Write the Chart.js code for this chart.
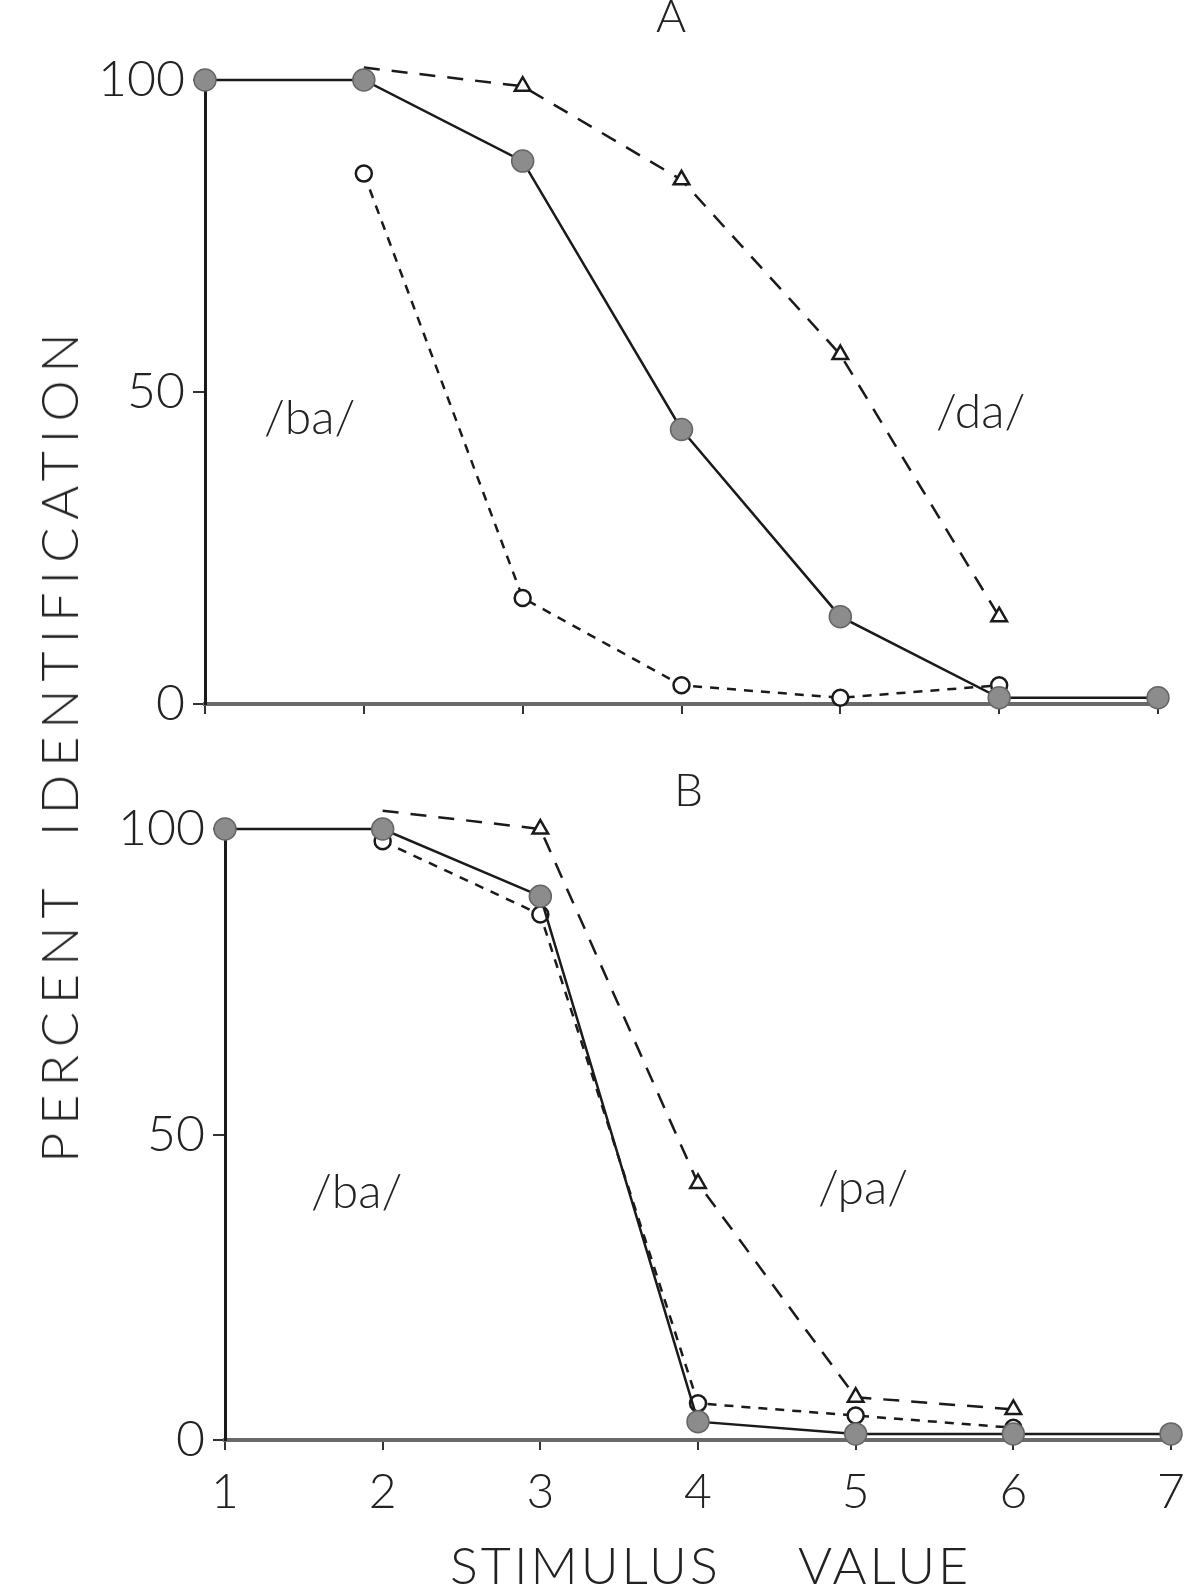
<!DOCTYPE html>
<html>
<head>
<meta charset="utf-8">
<script src="https://cdn.jsdelivr.net/npm/chart.js@4.4.0/dist/chart.umd.min.js"></script>
<style>
  html, body { margin: 0; padding: 0; background: #fff; }
  #page { position: relative; width: 1204px; height: 1587px; overflow: hidden; font-family: Lato, "DejaVu Sans", sans-serif; font-weight: 300; color: #222; }
  canvas { position: absolute; left: 0; }
  .lbl { position: absolute; line-height: 1; white-space: nowrap; }
</style>
</head>
<body>
<div id="page">
  <canvas id="chartA" style="top:0px"></canvas>
  <canvas id="chartB" style="top:760px"></canvas>

  <div class="lbl" style="left:656px; top:-8px; font-size:46px;">A</div>
  <div class="lbl" style="left:674px; top:766px; font-size:46px;">B</div>
  <div class="lbl" style="left:264px; top:392px; font-size:48px;">/ba/</div>
  <div class="lbl" style="left:936px; top:386px; font-size:48px;">/da/</div>
  <div class="lbl" style="left:311px; top:1166px; font-size:48px;">/ba/</div>
  <div class="lbl" style="left:818px; top:1162px; font-size:48px;">/pa/</div>
  <div class="lbl" style="left:450px; top:1538px; font-size:52px; letter-spacing:3px; word-spacing:62px;">STIMULUS VALUE</div>
  <div class="lbl" style="left:58px; top:744px; font-size:52px; letter-spacing:8px; word-spacing:24px; transform:translate(-50%,-50%) rotate(-90deg);">PERCENT IDENTIFICATION</div>
</div>

<script>
// stimulus values on the x axis
var stimulus = [1, 2, 3, 4, 5, 6, 7];
var partialX = [2, 3, 4, 5, 6];
var yTicks = [0, 50, 100];

// panel A  (/ba/ - /da/)
var filledA = [100, 100, 87, 44, 14, 1, 1];
var triangleA = [102, 99, 84, 56, 14];
var openA = [85, 17, 3, 1, 3];

// panel B  (/ba/ - /pa/)
var filledB = [100, 100, 89, 3, 1, 1, 1];
var triangleB = [103, 100, 42, 7, 5];
var openB = [98, 86, 6, 4, 2];

function pts(xs, ys) {
    return ys.map(function (v, i) { return { x: xs[i], y: v }; });
}

function makeChart(id, height, area, filled, tri, open, showXLabels) {
    var el = document.getElementById(id);
    return new Chart(el, {
        type: "line",
        data: {
            datasets: [
                {
                    data: pts(stimulus, filled),
                    borderColor: "#1a1a1a",
                    borderWidth: 2.5,
                    pointRadius: 11,
                    pointBackgroundColor: "#8c8c8c",
                    pointBorderColor: "#666",
                    pointBorderWidth: 1.5,
                    clip: false
                },
                {
                    data: pts(partialX, tri),
                    borderColor: "#1a1a1a",
                    borderWidth: 2.5,
                    borderDash: [16, 12],
                    pointStyle: "triangle",
                    pointRadius: 9,
                    pointBackgroundColor: "#fff",
                    pointBorderColor: "#1a1a1a",
                    pointBorderWidth: 2.5,
                    clip: false
                },
                {
                    data: pts(partialX, open),
                    borderColor: "#1a1a1a",
                    borderWidth: 2.5,
                    borderDash: [9, 8],
                    pointRadius: 8,
                    pointBackgroundColor: "#fff",
                    pointBorderColor: "#1a1a1a",
                    pointBorderWidth: 2.5,
                    clip: false
                }
            ]
        },
        options: {
            responsive: false,
            animation: false,
            layout: { padding: { top: area.top, right: 1204 - area.right, left: 0, bottom: 0 } },
            plugins: { legend: { display: false }, tooltip: { enabled: false } },
            scales: {
                x: {
                    type: "linear",
                    min: 1,
                    max: 7,
                    afterFit: function (s) { s.height = height - area.bottom; },
                    border: { color: "#6a6a6a", width: 4 },
                    grid: { drawOnChartArea: false, drawTicks: true, tickLength: 10, color: "#333", lineWidth: 2 },
                    ticks: {
                        display: showXLabels,
                        stepSize: 1,
                        padding: 14,
                        color: "#222",
                        font: { family: "Lato", weight: 300, size: 48 }
                    }
                },
                y: {
                    min: 0,
                    max: 100,
                    afterFit: function (s) { s.width = area.left; },
                    afterBuildTicks: function (s) { s.ticks = yTicks.map(function (v) { return { value: v }; }); },
                    border: { color: "#1a1a1a", width: 3 },
                    grid: { drawOnChartArea: false, drawTicks: true, tickLength: 12, color: "#333", lineWidth: 2 },
                    ticks: {
                        padding: 8,
                        color: "#222",
                        font: { family: "Lato", weight: 300, size: 50 }
                    }
                }
            }
        }
    });
}

var cA = document.getElementById("chartA");
cA.width = 1204; cA.height = 760;
var cB = document.getElementById("chartB");
cB.width = 1204; cB.height = 827;

makeChart("chartA", 760, { left: 205, right: 1158, top: 80, bottom: 704 }, filledA, triangleA, openA, false);
makeChart("chartB", 827, { left: 225, right: 1171, top: 69, bottom: 680 }, filledB, triangleB, openB, true);
</script>
</body>
</html>
